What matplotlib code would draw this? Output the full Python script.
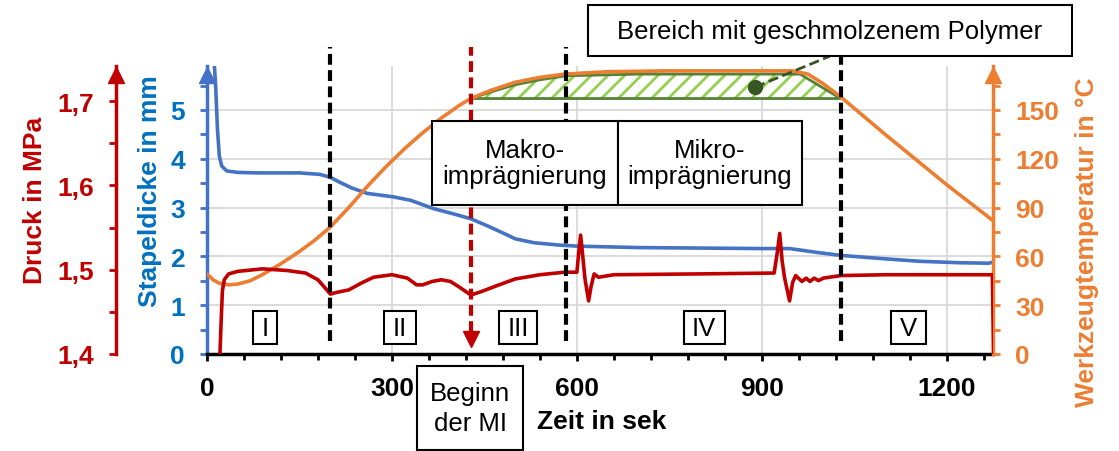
import matplotlib.pyplot as plt
from matplotlib.patches import Rectangle
from matplotlib.ticker import MultipleLocator

plt.rcParams['font.family'] = ['Liberation Sans', 'DejaVu Sans']
plt.rcParams['hatch.linewidth'] = 2.0

# Stapeldicke (mm) ueber der Zeit (s)
blue_t = [0, 10, 14, 17, 20, 24, 32, 50, 81, 150, 183, 200, 215, 235, 260, 302, 330, 367,
          400, 428, 454, 480, 500, 530, 572, 600, 700, 800, 900, 945, 990, 1028, 1100,
          1155, 1220, 1268, 1275, 1279]
blue_mm = [6.6, 6.3, 5.5, 4.6, 4.05, 3.85, 3.75, 3.72, 3.71, 3.71, 3.68, 3.62, 3.52, 3.40,
           3.29, 3.22, 3.15, 2.98, 2.87, 2.77, 2.63, 2.48, 2.36, 2.28, 2.23, 2.21, 2.18,
           2.17, 2.16, 2.16, 2.08, 2.02, 1.95, 1.90, 1.87, 1.86, 1.88, 1.97]

# Werkzeugtemperatur (degC)
orange_t = [0, 5, 10, 20, 35, 50, 70, 91, 120, 150, 175, 200, 230, 260, 290, 320, 350, 380,
            410, 428, 460, 500, 540, 580, 650, 750, 850, 950, 975, 1000, 1028, 1100, 1200,
            1275]
orange_c = [49, 47.5, 45.5, 43.5, 42.5, 43, 45, 49, 55.5, 63, 70, 78, 90, 103, 115, 126,
            136, 145, 153, 157, 162, 167, 170, 172, 173.5, 174, 174, 174, 172, 166, 158,
            135, 104, 82]

# Druck (MPa)
red_t = [21, 23, 25, 28, 35, 50, 90, 130, 160, 180, 192, 200, 210, 230, 250, 270, 300, 325,
         340, 350, 365, 380, 395, 410, 428, 445, 470, 500, 540, 580, 600, 603, 606, 609,
         613, 619, 623, 628, 635, 660, 800, 920, 925, 929, 933, 937, 945, 950, 955, 965,
         972, 978, 985, 992, 1000, 1028, 1100, 1200, 1274, 1276]
red_mpa = [1.40, 1.44, 1.475, 1.488, 1.495, 1.498, 1.501, 1.499, 1.496, 1.488, 1.478,
           1.471, 1.473, 1.476, 1.484, 1.491, 1.494, 1.490, 1.482, 1.482, 1.486, 1.488,
           1.486, 1.479, 1.470, 1.474, 1.481, 1.489, 1.494, 1.497, 1.497, 1.52, 1.541,
           1.52, 1.49, 1.463, 1.48, 1.495, 1.491, 1.494, 1.495, 1.496, 1.52, 1.543, 1.51,
           1.49, 1.463, 1.485, 1.493, 1.486, 1.490, 1.486, 1.490, 1.487, 1.490, 1.493,
           1.494, 1.494, 1.494, 1.40]

# Bereich mit geschmolzenem Polymer
melt_t = [428, 460, 500, 540, 582, 700, 850, 962, 1028]
melt_top = [157, 161, 165.5, 168.5, 171, 172, 172, 172, 157]
melt_base = 157
melt_dot = (889, 164)

phase_lines = [200, 582, 1028]
mi_start = 428
phases = ['I', 'II', 'III', 'IV', 'V']

x_ticks = [0, 300, 600, 900, 1200]
mm_ticks = [0, 1, 2, 3, 4, 5]
temp_ticks = [0, 30, 60, 90, 120, 150]
p_ticks = [1.4, 1.5, 1.6, 1.7]
p_labels = ['1,4', '1,5', '1,6', '1,7']

BLUE, BLUE_T = '#4472C4', '#0070C0'
ORANGE = '#ED7D31'
RED = '#C00000'

W, H = 1119, 452
fig = plt.figure(figsize=(W / 100, H / 100), dpi=100)


def fx(px):
    return px / W


def fy(py):
    return 1 - py / H


ax = fig.add_axes([fx(207), fy(355), fx(993) - fx(207), fy(67) - fy(355)])
ax_t = ax.twinx()
ax_p = ax.twinx()

ax.set_xlim(0, 1275)
ax.set_ylim(0, 5.9)
ax_t.set_ylim(0, 177)
ax_p.set_ylim(1.4, 1.4 + 5.9 * 48.8 / 843)

ax.grid(True, color='#D9D9D9', lw=1.3)
ax.set_axisbelow(True)

for a in (ax, ax_t, ax_p):
    for s in a.spines.values():
        s.set_visible(False)
ax.spines['left'].set_visible(True)
ax.spines['left'].set_color(BLUE)
ax.spines['left'].set_linewidth(2.5)
ax.spines['bottom'].set_visible(True)
ax.spines['bottom'].set_color('black')
ax.spines['bottom'].set_linewidth(2.5)
ax_t.spines['right'].set_visible(True)
ax_t.spines['right'].set_color(ORANGE)
ax_t.spines['right'].set_linewidth(2.5)
ax_p.spines['left'].set_visible(True)
ax_p.spines['left'].set_position(('outward', 65.5))
ax_p.spines['left'].set_color(RED)
ax_p.spines['left'].set_linewidth(2.5)
ax_p.yaxis.set_ticks_position('left')
ax_p.yaxis.set_label_position('left')

# x axis
ax.set_xticks(x_ticks)
ax.set_xticklabels([str(v) for v in x_ticks], fontweight='bold')
ax.xaxis.set_minor_locator(MultipleLocator(60))
ax.tick_params(axis='x', which='both', direction='out', color='black', width=2,
               labelsize=19, pad=11)
ax.tick_params(axis='x', which='major', length=5)
ax.tick_params(axis='x', which='minor', length=4)

# blue axis
ax.set_yticks(mm_ticks)
ax.set_yticklabels([str(v) for v in mm_ticks], fontweight='bold')
ax.yaxis.set_minor_locator(MultipleLocator(0.5))
ax.tick_params(axis='y', which='both', direction='out', color=BLUE, width=2, length=5,
               labelcolor=BLUE_T, labelsize=19, pad=11)

# orange axis
ax_t.set_yticks(temp_ticks)
ax_t.set_yticklabels([str(v) for v in temp_ticks], fontweight='bold')
ax_t.yaxis.set_minor_locator(MultipleLocator(15))
ax_t.tick_params(axis='y', which='both', direction='out', color=ORANGE, width=2, length=5,
                 labelcolor=ORANGE, labelsize=19, pad=11)

# red axis
ax_p.set_yticks(p_ticks)
ax_p.set_yticklabels(p_labels, fontweight='bold')
ax_p.yaxis.set_minor_locator(MultipleLocator(0.05))
ax_p.tick_params(axis='y', which='both', direction='out', color=RED, width=2, length=5,
                 labelcolor=RED, labelsize=19, pad=11)

# arrow heads on the y spines
ah = 1 - 8.5 / 288
ax.plot([0], [ah], marker='^', ms=11, color=BLUE, transform=ax.transAxes, clip_on=False)
ax_t.plot([1], [ah], marker='^', ms=11, color=ORANGE, transform=ax_t.transAxes, clip_on=False)
ax_p.plot([-91 / 786], [ah], marker='^', ms=11, color=RED, transform=ax_p.transAxes,
          clip_on=False)

# curves
ax.plot(blue_t, blue_mm, color=BLUE, lw=2.6)
ax_t.fill_between(melt_t, melt_base, melt_top, facecolor='white', edgecolor='#92D050',
                  hatch='//', lw=0)
ax_t.fill(melt_t + melt_t[::-1], melt_top + [melt_base] * len(melt_t), fill=False,
          edgecolor='#548235', lw=2)
ax_t.plot(orange_t, orange_c, color=ORANGE, lw=2.6)
ax_p.plot(red_t, red_mpa, color=RED, lw=2.6)

# melt region marker + leader
ax_t.plot([melt_dot[0], 1010], [melt_dot[1], 183], ls='--', color='#375623', lw=2,
          clip_on=False)
ax_t.plot([melt_dot[0]], [melt_dot[1]], 'o', color='#375623', ms=10)

# phase boundaries
for xv in phase_lines:
    ax_p.plot([xv, xv], [0.27, 6.29], color='black', lw=3, dashes=(2.6, 1.3),
              transform=ax.transData, clip_on=False, zorder=4)
ax_p.plot([mi_start, mi_start], [0.45, 6.29], color=RED, lw=3, dashes=(2.6, 1.3),
          transform=ax.transData, clip_on=False, zorder=4)
ax_p.plot([mi_start], [0.30], marker='v', ms=11, color=RED, transform=ax.transData,
          clip_on=False, zorder=4)


def box(x0, y0, x1, y1, text, ls=1.2):
    fig.add_artist(Rectangle((fx(x0), fy(y1)), fx(x1) - fx(x0), fy(y0) - fy(y1),
                             transform=fig.transFigure, facecolor='white',
                             edgecolor='black', lw=1.5, zorder=5))
    fig.text(fx((x0 + x1) / 2), fy((y0 + y1) / 2), text, ha='center', va='center',
             fontsize=18.5, linespacing=ls, zorder=6)


roman_cx = [265, 400, 518, 704, 908]
roman_w = [24, 32, 38, 41, 35]
for lab, cx, w in zip(phases, roman_cx, roman_w):
    box(cx - w / 2, 312, cx + w / 2, 345, lab)

box(432, 122, 618, 206, 'Makro-\nimprägnierung', ls=1.15)
box(618, 122, 802, 206, 'Mikro-\nimprägnierung', ls=1.15)
box(588, 6, 1072, 57, 'Bereich mit geschmolzenem Polymer')
box(417, 367, 523, 451, 'Beginn\nder MI', ls=1.35)

# axis titles
fig.text(fx(35), fy(200), 'Druck in MPa', rotation=90, ha='center', va='center',
         fontsize=19, fontweight='bold', color=RED)
fig.text(fx(150), fy(191), 'Stapeldicke in mm', rotation=90, ha='center', va='center',
         fontsize=19, fontweight='bold', color=BLUE_T)
fig.text(fx(1087), fy(242), 'Werkzeugtemperatur in °C', rotation=90, ha='center',
         va='center', fontsize=19, fontweight='bold', color=ORANGE)
fig.text(fx(602), fy(422), 'Zeit in sek', ha='center', va='center', fontsize=19,
         fontweight='bold', color='black')

fig.savefig('out.png', dpi=100)
